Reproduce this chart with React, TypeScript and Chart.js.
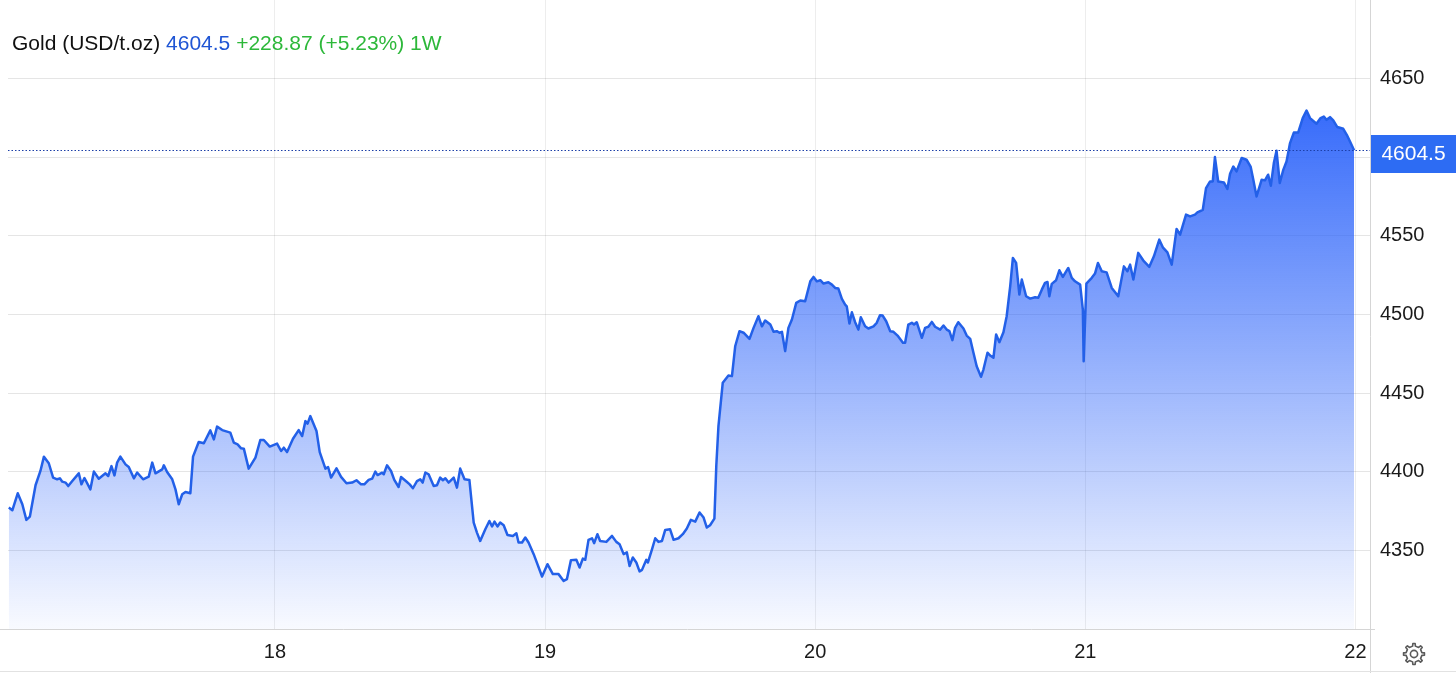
import React, { useEffect, useRef } from 'react';
import { Chart, registerables } from 'chart.js';

Chart.register(...registerables);

const TITLE_NAME = 'Gold (USD/t.oz)';
const LAST_PRICE = 4604.5;
const LAST_PRICE_TEXT = '4604.5';
const CHANGE_TEXT = '+228.87 (+5.23%) 1W';

const X_TICKS = [18, 19, 20, 21, 22];
const Y_TICKS = [4300, 4350, 4400, 4450, 4500, 4550, 4600, 4650];
const X_MIN = 17.012;
const X_MAX = 22.054;
const Y_MIN = 4300;
const Y_MAX = 4700;

const DAYS = [
  17.015, 17.028, 17.048, 17.065, 17.080, 17.093, 17.114, 17.132, 17.145, 17.163,
  17.179, 17.194, 17.204, 17.213, 17.225, 17.235, 17.250, 17.274, 17.284, 17.295,
  17.317, 17.330, 17.348, 17.373, 17.383, 17.395, 17.406, 17.416, 17.428, 17.447,
  17.459, 17.478, 17.490, 17.512, 17.533, 17.546, 17.558, 17.583, 17.589, 17.601,
  17.620, 17.632, 17.644, 17.657, 17.669, 17.687, 17.697, 17.718, 17.737, 17.761,
  17.774, 17.786, 17.805, 17.835, 17.848, 17.862, 17.875, 17.885, 17.903, 17.928,
  17.946, 17.959, 17.981, 18.008, 18.023, 18.033, 18.045, 18.067, 18.088, 18.101,
  18.113, 18.121, 18.131, 18.154, 18.166, 18.187, 18.197, 18.208, 18.228, 18.245,
  18.265, 18.286, 18.302, 18.319, 18.331, 18.347, 18.360, 18.372, 18.380, 18.397,
  18.403, 18.415, 18.430, 18.442, 18.458, 18.467, 18.489, 18.499, 18.511, 18.526,
  18.538, 18.547, 18.557, 18.569, 18.588, 18.600, 18.612, 18.622, 18.631, 18.643,
  18.662, 18.674, 18.686, 18.702, 18.720, 18.736, 18.748, 18.760, 18.779, 18.794,
  18.804, 18.813, 18.824, 18.834, 18.847, 18.861, 18.881, 18.894, 18.902, 18.915,
  18.927, 18.939, 18.958, 18.989, 19.009, 19.029, 19.050, 19.069, 19.081, 19.096,
  19.116, 19.128, 19.140, 19.149, 19.161, 19.174, 19.182, 19.194, 19.204, 19.227,
  19.248, 19.264, 19.276, 19.291, 19.303, 19.313, 19.325, 19.338, 19.350, 19.359,
  19.375, 19.381, 19.396, 19.408, 19.420, 19.433, 19.445, 19.463, 19.476, 19.494,
  19.510, 19.525, 19.540, 19.556, 19.572, 19.587, 19.599, 19.611, 19.627, 19.634,
  19.642, 19.658, 19.679, 19.692, 19.704, 19.720, 19.735, 19.757, 19.772, 19.790,
  19.803, 19.815, 19.834, 19.846, 19.858, 19.868, 19.877, 19.889, 19.901, 19.914,
  19.930, 19.945, 19.963, 19.982, 19.994, 20.006, 20.019, 20.031, 20.049, 20.062,
  20.074, 20.086, 20.099, 20.111, 20.117, 20.127, 20.136, 20.148, 20.160, 20.169,
  20.185, 20.197, 20.216, 20.228, 20.240, 20.250, 20.263, 20.278, 20.290, 20.305,
  20.325, 20.333, 20.345, 20.358, 20.366, 20.376, 20.395, 20.407, 20.419, 20.432,
  20.444, 20.463, 20.475, 20.487, 20.497, 20.508, 20.518, 20.530, 20.549, 20.561,
  20.574, 20.586, 20.598, 20.614, 20.623, 20.638, 20.648, 20.660, 20.670, 20.682,
  20.697, 20.709, 20.722, 20.732, 20.744, 20.756, 20.765, 20.781, 20.796, 20.814,
  20.826, 20.839, 20.851, 20.860, 20.867, 20.876, 20.892, 20.904, 20.917, 20.937,
  20.950, 20.962, 20.981, 20.991, 20.994, 21.004, 21.024, 21.036, 21.047, 21.061,
  21.079, 21.098, 21.122, 21.143, 21.156, 21.166, 21.178, 21.196, 21.215, 21.237,
  21.254, 21.274, 21.287, 21.304, 21.320, 21.338, 21.351, 21.373, 21.388, 21.406,
  21.415, 21.435, 21.447, 21.462, 21.472, 21.480, 21.492, 21.513, 21.526, 21.536,
  21.548, 21.560, 21.579, 21.597, 21.612, 21.622, 21.634, 21.653, 21.665, 21.677,
  21.687, 21.698, 21.708, 21.720, 21.733, 21.745, 21.758, 21.772, 21.788, 21.805,
  21.819, 21.832, 21.856, 21.871, 21.883, 21.893, 21.906, 21.918, 21.933, 21.955,
  21.968, 21.980, 21.995,
];

const PRICES = [
  4377.2, 4375.5, 4386.3, 4379.3, 4369.4, 4371.5, 4391.4, 4400.5, 4409.6, 4405.4,
  4396.3, 4395.2, 4395.8, 4393.7, 4393.1, 4390.9, 4394.1, 4399.0, 4392.0, 4396.0,
  4388.8, 4400.1, 4395.6, 4399.0, 4397.3, 4403.6, 4397.7, 4405.8, 4409.6, 4404.7,
  4403.0, 4395.8, 4399.5, 4395.2, 4396.9, 4405.8, 4399.0, 4401.5, 4404.1, 4399.8,
  4395.2, 4388.8, 4379.3, 4385.7, 4387.1, 4386.3, 4409.6, 4418.9, 4418.1, 4426.3,
  4420.6, 4428.7, 4426.5, 4424.9, 4418.5, 4417.4, 4414.9, 4414.7, 4402.0, 4409.0,
  4420.2, 4420.2, 4416.0, 4417.9, 4413.2, 4415.3, 4412.5, 4421.0, 4426.5, 4422.7,
  4432.2, 4430.6, 4435.4, 4425.9, 4412.5, 4402.0, 4403.0, 4396.3, 4402.2, 4396.7,
  4392.7, 4393.1, 4394.6, 4392.0, 4392.0, 4394.8, 4395.6, 4400.1, 4397.9, 4399.4,
  4398.4, 4404.1, 4400.5, 4394.8, 4390.3, 4396.7, 4393.5, 4392.0, 4389.5, 4394.1,
  4395.2, 4393.1, 4399.5, 4398.4, 4391.0, 4391.4, 4396.3, 4394.6, 4395.8, 4393.1,
  4396.3, 4389.9, 4402.0, 4395.2, 4394.8, 4367.7, 4361.3, 4356.0, 4363.4, 4368.7,
  4365.2, 4368.3, 4365.2, 4367.7, 4366.0, 4359.8, 4359.2, 4360.9, 4355.0, 4355.0,
  4358.2, 4355.0, 4347.6, 4333.4, 4341.2, 4334.9, 4334.9, 4330.6, 4331.7, 4343.8,
  4344.0, 4339.1, 4344.8, 4344.0, 4356.7, 4357.7, 4354.6, 4360.3, 4356.0, 4355.4,
  4359.2, 4355.4, 4353.9, 4347.6, 4348.7, 4340.1, 4345.5, 4342.3, 4336.6, 4337.6,
  4344.0, 4342.3, 4350.7, 4357.7, 4355.4, 4356.0, 4363.0, 4363.4, 4356.7, 4357.7,
  4360.3, 4363.9, 4369.4, 4368.3, 4374.1, 4370.9, 4364.5, 4366.0, 4370.2, 4403.6,
  4429.0, 4456.6, 4461.2, 4460.8, 4479.8, 4489.4, 4488.4, 4484.5, 4491.5, 4498.9,
  4492.5, 4496.2, 4493.6, 4489.0, 4489.4, 4488.4, 4489.0, 4476.7, 4491.5, 4496.8,
  4507.4, 4508.9, 4508.4, 4521.1, 4523.9, 4521.1, 4521.8, 4519.7, 4520.5, 4519.0,
  4516.9, 4516.5, 4509.9, 4506.3, 4505.2, 4494.3, 4501.4, 4495.1, 4490.4, 4498.3,
  4492.5, 4491.1, 4492.5, 4494.7, 4499.5, 4499.3, 4495.7, 4489.4, 4489.0, 4486.6,
  4482.0, 4482.0, 4493.6, 4494.7, 4493.6, 4495.1, 4485.2, 4491.5, 4492.2, 4495.3,
  4492.2, 4490.4, 4493.0, 4490.4, 4489.4, 4483.7, 4491.5, 4495.1, 4491.1, 4486.6,
  4484.5, 4475.7, 4467.1, 4460.4, 4465.0, 4475.7, 4473.9, 4472.5, 4487.3, 4482.4,
  4488.7, 4498.9, 4517.9, 4536.0, 4532.8, 4512.7, 4522.2, 4511.6, 4510.1, 4511.0,
  4510.6, 4515.8, 4520.1, 4520.7, 4511.6, 4519.5, 4521.8, 4528.1, 4523.9, 4529.6,
  4523.3, 4521.1, 4519.0, 4503.1, 4470.3, 4519.7, 4523.3, 4526.0, 4532.8, 4527.5,
  4526.8, 4516.9, 4511.6, 4530.6, 4527.5, 4531.7, 4522.2, 4539.2, 4534.3, 4530.3,
  4537.0, 4547.6, 4542.7, 4539.5, 4531.7, 4554.4, 4550.8, 4563.5, 4562.4, 4563.5,
  4564.9, 4566.6, 4580.4, 4584.6, 4584.6, 4600.1, 4584.6, 4584.0, 4579.8, 4589.5,
  4594.1, 4591.0, 4599.5, 4598.4, 4594.1, 4585.7, 4575.1, 4585.7, 4585.3, 4588.9,
  4581.9, 4596.3, 4604.1, 4583.6, 4592.0, 4597.3, 4609.0, 4615.7, 4615.7, 4624.9,
  4629.7, 4624.9, 4621.3, 4624.9, 4625.9, 4623.8, 4625.5, 4623.4, 4619.2, 4618.1,
  4614.3, 4610.0, 4604.5,
];

const FONT = '"Liberation Sans", Arial, Helvetica, sans-serif';
const LINE_COLOR = '#2360e8';
const LABEL_BG = '#2d6cf3';

const overlayPlugin = {
  id: 'overlay',
  afterDatasetsDraw(chart: any) {
    const { ctx, chartArea, scales } = chart;
    const y = Math.round(scales.y.getPixelForValue(LAST_PRICE)) + 0.5;
    ctx.save();
    // dotted last-price line
    ctx.strokeStyle = '#1c3fa8';
    ctx.lineWidth = 1;
    ctx.setLineDash([1.5, 2]);
    ctx.beginPath();
    ctx.moveTo(chartArea.left, y);
    ctx.lineTo(chartArea.right, y);
    ctx.stroke();
    ctx.setLineDash([]);
    // axis lines
    ctx.strokeStyle = '#d5d5d5';
    ctx.beginPath();
    ctx.moveTo(0, Math.round(chartArea.bottom) + 0.5);
    ctx.lineTo(chartArea.right + 5, Math.round(chartArea.bottom) + 0.5);
    ctx.moveTo(Math.round(chartArea.right) + 0.5, 0);
    ctx.lineTo(Math.round(chartArea.right) + 0.5, chart.height);
    ctx.stroke();
    ctx.strokeStyle = '#e2e2e2';
    ctx.beginPath();
    ctx.moveTo(0, chart.height - 1.5);
    ctx.lineTo(chart.width, chart.height - 1.5);
    ctx.stroke();
    // last price label
    const bx = Math.round(chartArea.right) + 1;
    const bw = chart.width - bx;
    ctx.fillStyle = LABEL_BG;
    ctx.fillRect(bx, y - 15.5, bw, 38);
    ctx.fillStyle = '#ffffff';
    ctx.font = `21px ${FONT}`;
    ctx.textAlign = 'center';
    ctx.textBaseline = 'middle';
    ctx.fillText(LAST_PRICE_TEXT, bx + bw / 2, y + 4);
    ctx.restore();
  },
};

function gearPath(cx: number, cy: number, rOuter: number, rInner: number, teeth: number) {
  const pts: string[] = [];
  const step = (Math.PI * 2) / teeth;
  for (let i = 0; i < teeth; i++) {
    const a = i * step;
    const angles = [a - step * 0.22, a - step * 0.14, a + step * 0.14, a + step * 0.22];
    const radii = [rInner, rOuter, rOuter, rInner];
    angles.forEach((ang, k) => {
      pts.push(`${(cx + radii[k] * Math.cos(ang)).toFixed(2)},${(cy + radii[k] * Math.sin(ang)).toFixed(2)}`);
    });
  }
  return 'M' + pts.join('L') + 'Z';
}

export default function App() {
  const canvasRef = useRef<HTMLCanvasElement | null>(null);

  useEffect(() => {
    if (!canvasRef.current) return;
    const data = DAYS.map((d, i) => ({ x: d, y: PRICES[i] }));
    const maxPrice = Math.max(...PRICES);
    const chart = new Chart(canvasRef.current, {
      type: 'line',
      data: {
        datasets: [
          {
            data,
            borderColor: LINE_COLOR,
            borderWidth: 2.5,
            borderJoinStyle: 'round',
            pointRadius: 0,
            tension: 0,
            fill: 'start',
            backgroundColor: (c: any) => {
              const ch = c.chart;
              const { chartArea, scales } = ch;
              if (!chartArea) return 'rgba(45,100,250,0.3)';
              const top = scales.y.getPixelForValue(maxPrice);
              const g = ch.ctx.createLinearGradient(0, top, 0, chartArea.bottom);
              g.addColorStop(0, 'rgba(45,100,250,0.95)');
              g.addColorStop(1, 'rgba(45,100,250,0.03)');
              return g;
            },
          },
        ],
      },
      options: {
        animation: false,
        responsive: true,
        maintainAspectRatio: false,
        layout: { padding: { left: 8, top: 0, right: 0, bottom: 0 } },
        plugins: { legend: { display: false }, tooltip: { enabled: false }, title: { display: false } },
        scales: {
          x: {
            type: 'linear',
            min: X_MIN,
            max: X_MAX,
            afterBuildTicks: (scale: any) => {
              scale.ticks = X_TICKS.map((v) => ({ value: v }));
            },
            afterFit: (scale: any) => {
              scale.height = 44;
              scale.paddingLeft = 0;
              scale.paddingRight = 0;
            },
            grid: { color: 'rgba(0,0,0,0.07)', drawTicks: false, lineWidth: 1 },
            border: { display: false },
            ticks: {
              padding: 11,
              color: '#1a1a1a',
              font: { family: FONT, size: 20 },
              maxRotation: 0,
              autoSkip: false,
              callback: (v: any) => String(v),
            },
          },
          y: {
            position: 'right',
            min: Y_MIN,
            max: Y_MAX,
            afterBuildTicks: (scale: any) => {
              scale.ticks = Y_TICKS.map((v) => ({ value: v }));
            },
            afterFit: (scale: any) => {
              scale.width = 86;
              scale.paddingTop = 0;
              scale.paddingBottom = 0;
            },
            grid: {
              color: (c: any) => (c.tick && c.tick.value === Y_MIN ? 'rgba(0,0,0,0)' : 'rgba(0,0,0,0.1)'),
              drawTicks: false,
            },
            border: { display: false },
            ticks: {
              padding: 10,
              color: '#1a1a1a',
              font: { family: FONT, size: 20 },
              autoSkip: false,
              callback: (v: any) => (v === Y_MIN ? '' : String(v)),
            },
          },
        },
      },
      plugins: [overlayPlugin],
    });
    return () => chart.destroy();
  }, []);

  return (
    <div style={{ position: 'absolute', left: 0, top: 0, width: 1456, height: 673, background: '#fff', overflow: 'hidden' }}>
      <canvas ref={canvasRef} />
      <div
        style={{
          position: 'absolute',
          left: 12,
          top: 32,
          fontFamily: FONT,
          fontSize: 21,
          lineHeight: '21px',
          whiteSpace: 'nowrap',
          color: '#111',
        }}
      >
        <span>{TITLE_NAME}</span> <span style={{ color: '#1f55d4' }}>{LAST_PRICE_TEXT}</span>{' '}
        <span style={{ color: '#2db83a' }}>{CHANGE_TEXT}</span>
      </div>
      <svg
        style={{ position: 'absolute', left: 1402, top: 642 }}
        width={24}
        height={24}
        viewBox="0 0 24 24"
      >
        <path d={gearPath(12, 12, 10.5, 8, 8)} fill="none" stroke="#5a5a5a" strokeWidth={1.6} strokeLinejoin="round" />
        <circle cx={12} cy={12} r={3.6} fill="none" stroke="#5a5a5a" strokeWidth={1.6} />
      </svg>
    </div>
  );
}
